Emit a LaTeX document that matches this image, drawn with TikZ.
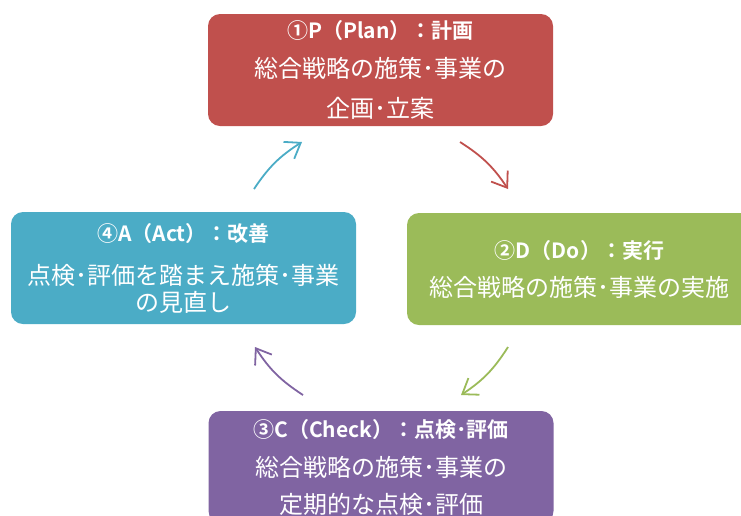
\documentclass[tikz,border=0pt]{standalone}
\usepackage{fontspec}
\newfontfamily\jpfont{Noto Sans CJK JP}[BoldFont={Noto Sans CJK JP Bold}]
\usetikzlibrary{arrows.meta}
\definecolor{planred}{HTML}{C0504D}
\definecolor{dogreen}{HTML}{9BBB59}
\definecolor{checkpurple}{HTML}{8064A2}
\definecolor{actblue}{HTML}{4BACC6}
\newcommand\phasehead[1]{{\bfseries\fontsize{21}{27}\selectfont #1}}

\begin{document}
\begin{tikzpicture}[x=1pt,y=1pt,
    phase/.style={rounded corners=12pt,minimum width=345pt,minimum height=112pt,
        inner sep=0pt,text=white,align=center,font=\jpfont\fontsize{24}{27}\selectfont},
    cyclearrow/.style={-{Straight Barb[length=14pt,width=20pt]},line width=1.8pt}]
        \useasboundingbox (0,0) rectangle (741,-515);
        \clip (0,0) rectangle (741,-515);
        % the four phases
        \node[phase,fill=planred] (plan) at (380.5,-70)
            {\phasehead{①P（Plan）：計画}\\[12pt]総合戦略の施策･事業の\\[13pt]企画･立案};
        \node[phase,fill=dogreen] (do) at (579.5,-269)
            {\phasehead{②D（Do）：実行}\\[11pt]総合戦略の施策･事業の実施};
        \node[phase,fill=checkpurple] (check) at (381,-467)
            {\phasehead{③C（Check）：点検･評価}\\[12pt]総合戦略の施策･事業の\\[10pt]定期的な点検･評価};
        \node[phase,fill=actblue] (act) at (183.5,-268)
            {\phasehead{④A（Act）：改善}\\[16pt]点検･評価を踏まえ施策･事業\\の見直し};
        % arrow ends
        \path (460,-142) coordinate (plan out)
              (508,-189) coordinate (do in)
              (508,-347) coordinate (do out)
              (461,-395) coordinate (check in)
              (303,-395) coordinate (check out)
              (255,-347) coordinate (act in)
              (254,-189) coordinate (act out)
              (302,-142) coordinate (plan in);
        \draw[cyclearrow,planred] (plan out) to[bend left=12] (do in);
        \draw[cyclearrow,dogreen] (do out) to[bend left=12] (check in);
        \draw[cyclearrow,checkpurple] (check out) to[bend left=12] (act in);
        \draw[cyclearrow,actblue] (act out) to[bend left=12] (plan in);
    \end{tikzpicture}
\end{document}
